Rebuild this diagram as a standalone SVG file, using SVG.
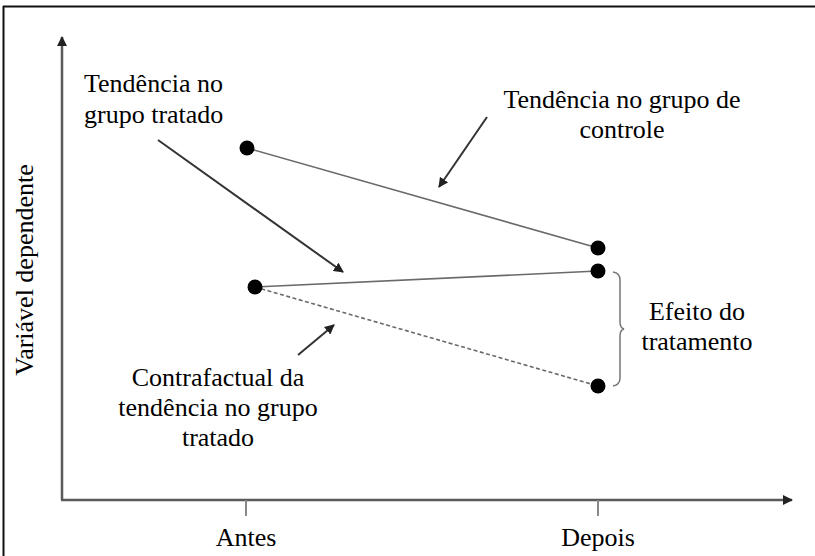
<svg xmlns="http://www.w3.org/2000/svg" width="815" height="556" viewBox="0 0 815 556">
<style>
text{font-family:'Liberation Serif',serif;font-size:26px;fill:#000}
.axis{stroke:#5a5a5a;stroke-width:2.5;fill:none}
.trend{stroke:#6a6a6a;stroke-width:1.6;fill:none}
.ptr{stroke:#333;stroke-width:2;fill:none}
.dot{fill:#000}
</style>
<defs>
<marker id="ah" viewBox="0 0 10 10" refX="9" refY="5" markerWidth="5" markerHeight="5" orient="auto" markerUnits="strokeWidth">
<path d="M0,0 L10,5 L0,10 z" fill="#222"/>
</marker>
<marker id="axh" viewBox="0 0 10 10" refX="9" refY="5" markerWidth="4" markerHeight="4" orient="auto" markerUnits="strokeWidth">
<path d="M0,0 L10,5 L0,10 z" fill="#222"/>
</marker>
</defs>
<rect width="815" height="556" fill="#fff"/>
<g id="frame">
<line x1="3.5" y1="6" x2="3.5" y2="556" stroke="#111" stroke-width="2"/>
<line x1="3" y1="6.5" x2="815" y2="6.5" stroke="#111" stroke-width="2"/>
</g>
<g font-family="Liberation Serif, serif" font-size="26">
<g id="axes">
<line class="axis" x1="62" y1="500" x2="62" y2="37" marker-end="url(#axh)"/>
<line class="axis" x1="61" y1="500" x2="792" y2="500" marker-end="url(#axh)"/>
<line x1="246" y1="500" x2="246" y2="516" stroke="#888" stroke-width="2"/>
<line x1="598" y1="500" x2="598" y2="516" stroke="#888" stroke-width="2"/>
<text x="246" y="546" text-anchor="middle">Antes</text>
<text x="598" y="546" text-anchor="middle">Depois</text>
<text transform="translate(33,270) rotate(-90)" text-anchor="middle">Variável dependente</text>
</g>
<g id="connectors">
<line class="trend" x1="247" y1="148" x2="598" y2="248"/>
<line class="trend" x1="255" y1="287" x2="598" y2="271"/>
<line class="trend" x1="255" y1="287" x2="598" y2="386" stroke-dasharray="4,2.5"/>
<line class="ptr" x1="158" y1="140" x2="343" y2="272" marker-end="url(#ah)"/>
<line class="ptr" x1="487" y1="117" x2="439" y2="187" marker-end="url(#ah)"/>
<line class="ptr" x1="298" y1="355" x2="334" y2="325" marker-end="url(#ah)"/>
<path d="M613,272 Q620,273 620,280 L620,322 Q620,328 624,329 Q620,330 620,336 L620,378 Q620,385 613,386" stroke="#777" stroke-width="1.5" fill="none"/>
</g>
<g id="control-before"><circle class="dot" cx="247" cy="148" r="7.5"/></g>
<g id="control-after"><circle class="dot" cx="598" cy="248" r="7.5"/></g>
<g id="treated-after"><circle class="dot" cx="598" cy="271" r="7.5"/></g>
<g id="treated-before"><circle class="dot" cx="255" cy="287" r="7.5"/></g>
<g id="counterfactual-after"><circle class="dot" cx="598" cy="386" r="7.5"/></g>
<g id="label-treated">
<text x="84" y="92">Tendência no</text>
<text x="84" y="123">grupo tratado</text>
</g>
<g id="label-control">
<text x="622" y="108" text-anchor="middle">Tendência no grupo de</text>
<text x="622" y="138" text-anchor="middle">controle</text>
</g>
<g id="label-effect">
<text x="697" y="320" text-anchor="middle">Efeito do</text>
<text x="697" y="350" text-anchor="middle">tratamento</text>
</g>
<g id="label-counterfactual">
<text x="218" y="386" text-anchor="middle">Contrafactual da</text>
<text x="218" y="416" text-anchor="middle">tendência no grupo</text>
<text x="218" y="446" text-anchor="middle">tratado</text>
</g>
</g>
</svg>
